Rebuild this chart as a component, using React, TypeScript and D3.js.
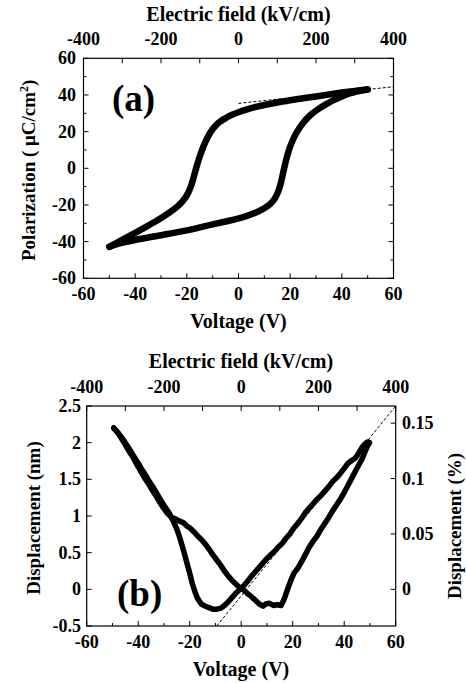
import React from "react";
import * as d3 from "d3";

// ---- Panel (a): polarization hysteresis loop (V, µC/cm²) ----
const loopDescending: [number, number][] = [
  [50, 43], [45, 42.2], [40, 41.3], [35, 40.3], [30, 39.2], [25, 38.2], [20, 37.1],
  [15, 35.9], [10, 34.5], [6, 33.2], [3, 32], [0, 30.6], [-2.5, 29.2], [-5, 27.4],
  [-7, 25.6], [-8.8, 23.4], [-10.3, 20.8], [-11.6, 17.8], [-12.8, 14.4], [-14, 10.4],
  [-15.1, 6], [-16.1, 1.5], [-17, -3], [-17.9, -7.5], [-18.9, -11.6], [-20.1, -15],
  [-21.6, -17.9], [-23.5, -20.6], [-26, -23.4], [-29, -26.3], [-32.5, -29.3],
  [-36.5, -32.5], [-40.5, -35.6], [-44.5, -38.6], [-47.5, -40.9], [-50, -42.8],
];
const loopAscending: [number, number][] = [
  [-50, -42.8], [-47, -41.4], [-44, -40.3], [-40, -39.1], [-34, -37.5], [-28, -36],
  [-22, -34.4], [-16, -32.6], [-10, -30.6], [-5, -29], [-1, -27.7], [3, -26.1],
  [6.5, -24.3], [9.5, -22.2], [12, -19.8], [14, -16.6], [15.4, -12.6], [16.4, -8],
  [17.2, -3], [18, 2], [19, 7.5], [20.2, 12.6], [21.7, 17.4], [23.4, 21.6],
  [25.5, 25.6], [28, 29.2], [31, 32.4], [34, 35], [37, 37.3], [40, 39.2],
  [43, 40.8], [46, 42], [50, 43],
];
// tangent to the saturated branch: (V, P) end points
const fitLineA: [number, number][] = [[0, 35.4], [60, 44.5]];

// ---- Panel (b): butterfly displacement curve (V, nm) ----
const dispUp: [number, number][] = [
  [-49.5, 2.2], [-48, 2.14], [-46.5, 2.06], [-45, 1.97], [-43.5, 1.88], [-42, 1.8],
  [-40.5, 1.7], [-39, 1.61], [-37.5, 1.52], [-36, 1.44], [-34.5, 1.35], [-33, 1.27],
  [-31.5, 1.18], [-30, 1.1], [-28.5, 1.03], [-27, 0.98], [-25.5, 0.96], [-24, 0.93],
  [-22.5, 0.91], [-21, 0.86], [-20, 0.84], [-18.5, 0.79], [-17, 0.73], [-15.5, 0.68],
  [-14, 0.62], [-12.5, 0.55], [-11, 0.47], [-9.5, 0.4], [-8, 0.33], [-6.5, 0.25],
  [-5, 0.18], [-3.5, 0.12], [-2, 0.07], [-0.5, 0.02], [1, -0.01], [2.5, -0.06],
  [4, -0.1], [5.5, -0.15], [7, -0.2], [8.5, -0.23], [9.5, -0.2], [11, -0.19],
  [12.5, -0.22], [14, -0.21], [15.5, -0.22], [16.5, -0.15], [17.5, -0.05], [18.5, 0.05],
  [19.5, 0.14], [20.5, 0.22], [22, 0.29], [23.5, 0.38], [25, 0.48], [26.5, 0.58],
  [28, 0.66], [29.5, 0.73], [31, 0.82], [32.5, 0.9], [34, 0.98], [35.5, 1.07],
  [37, 1.15], [38.5, 1.23], [40, 1.32], [41.5, 1.42], [43, 1.52], [44.5, 1.62],
  [46, 1.72], [47, 1.78], [48, 1.87], [49, 1.95], [49.8, 2.0],
];
const dispDown: [number, number][] = [
  [49.8, 2.0], [49, 2.01], [48, 1.98], [47, 1.94], [46, 1.88], [45, 1.82], [44, 1.78],
  [43, 1.76], [41.5, 1.72], [40, 1.65], [38.5, 1.58], [37, 1.52], [35.5, 1.47],
  [34, 1.4], [32.5, 1.34], [31, 1.28], [29.5, 1.23], [28, 1.17], [26.5, 1.11],
  [25, 1.05], [23.5, 0.97], [22, 0.9], [20.5, 0.84], [19, 0.76], [17.5, 0.7],
  [16, 0.63], [14.5, 0.58], [13, 0.52], [11.5, 0.47], [10, 0.42], [8.5, 0.36],
  [7, 0.3], [5.5, 0.24], [4, 0.18], [2.5, 0.11], [1, 0.05], [-0.5, 0.0], [-2, -0.05],
  [-3.5, -0.11], [-5, -0.17], [-6.5, -0.22], [-8, -0.26], [-9.5, -0.27], [-11, -0.27],
  [-12.5, -0.25], [-14, -0.23], [-15.5, -0.2], [-17, -0.12], [-18, -0.03], [-19, 0.08],
  [-20, 0.22], [-21, 0.35], [-22, 0.48], [-23, 0.6], [-24, 0.72], [-25, 0.82],
  [-26.5, 0.94], [-28, 1.04], [-29.5, 1.12], [-31, 1.2], [-32.5, 1.29], [-34, 1.38],
  [-35.5, 1.46], [-37, 1.55], [-38.5, 1.63], [-40, 1.72], [-41.5, 1.8], [-43, 1.89],
  [-44.5, 1.97], [-46, 2.05], [-47.5, 2.12], [-49, 2.18], [-49.5, 2.2],
];
const fitLineB: [number, number][] = [[-9.5, -0.5], [60, 2.5]];

// ---- axis ticks ----
const voltageTicks = [-60, -40, -20, 0, 20, 40, 60];
const voltageMinor = [-50, -30, -10, 10, 30, 50];
const fieldTicks = [-400, -200, 0, 200, 400];
const fieldMinor = [-300, -100, 100, 300];
const polTicks = [-60, -40, -20, 0, 20, 40, 60];
const polMinor = [-50, -30, -10, 10, 30, 50];
const dispTicks = [-0.5, 0, 0.5, 1, 1.5, 2, 2.5];
const dispTickLabels = ["-0.5", "0", "0.5", "1", "1.5", "2", "2.5"];
const strainTicks = [0, 0.05, 0.1, 0.15];
const strainTickLabels = ["0", "0.05", "0.1", "0.15"];

const FONT = "Liberation Serif, Tinos, DejaVu Serif, serif";
const MAJ = 5;
const MIN = 3;
const TICK_FS = 18;
const TITLE_FS = 20;

function Frame({ x, y }: { x: d3.ScaleLinear<number, number>; y: d3.ScaleLinear<number, number> }) {
  const [x0, x1] = x.range();
  const [y0, y1] = y.range();
  return (
    <rect x={x0} y={y1} width={x1 - x0} height={y0 - y1} fill="none" stroke="#000" strokeWidth={1.2} />
  );
}

export default function App() {
  // panel (a)
  const xA = d3.scaleLinear().domain([-60, 60]).range([83.5, 393.5]);
  const eA = d3.scaleLinear().domain([-400, 400]).range([83.5, 393.5]);
  const yA = d3.scaleLinear().domain([-60, 60]).range([278.3, 58.3]);
  // panel (b)
  const xB = d3.scaleLinear().domain([-60, 60]).range([86.7, 395.7]);
  const eB = d3.scaleLinear().domain([-400, 400]).range([86.7, 395.7]);
  const yB = d3.scaleLinear().domain([-0.5, 2.5]).range([626, 406]);
  const nmToPct = 0.0662;
  const yB2 = d3.scaleLinear().domain([-0.5 * nmToPct, 2.5 * nmToPct]).range([626, 406]);

  const lineA = d3
    .line<[number, number]>()
    .x((d) => xA(d[0]))
    .y((d) => yA(d[1]))
    .curve(d3.curveCatmullRom.alpha(0.5));
  const lineB = d3
    .line<[number, number]>()
    .x((d) => xB(d[0]))
    .y((d) => yB(d[1]))
    .curve(d3.curveLinear);

  const [ax0, ax1] = xA.range();
  const [ay0, ay1] = yA.range();
  const [bx0, bx1] = xB.range();
  const [by0, by1] = yB.range();

  const T = (props: any) => (
    <text fontFamily={FONT} fontWeight="bold" fill="#000" {...props} />
  );

  return (
    <svg
      width={466}
      height={683}
      style={{ position: "absolute", left: 0, top: 0, background: "#fff" }}
    >
      <rect x={0} y={0} width={466} height={683} fill="#fff" />

      {/* ================= Panel (a) ================= */}
      <g>
        <path d={d3.line()(fitLineA.map((d) => [xA(d[0]), yA(d[1])]) as [number, number][]) || ""}
          stroke="#000" strokeWidth={1} strokeDasharray="3,2" fill="none" />
        <path d={lineA(loopDescending) || ""} fill="none" stroke="#000" strokeWidth={6.5}
          strokeLinecap="round" strokeLinejoin="round" />
        <path d={lineA(loopAscending) || ""} fill="none" stroke="#000" strokeWidth={6.5}
          strokeLinecap="round" strokeLinejoin="round" />

        <Frame x={xA} y={yA} />
        {voltageTicks.map((v) => (
          <line key={"ab" + v} x1={xA(v)} x2={xA(v)} y1={ay0} y2={ay0 - MAJ} stroke="#000" />
        ))}
        {voltageMinor.map((v) => (
          <line key={"abm" + v} x1={xA(v)} x2={xA(v)} y1={ay0} y2={ay0 - MIN} stroke="#000" />
        ))}
        {fieldTicks.map((v) => (
          <line key={"at" + v} x1={eA(v)} x2={eA(v)} y1={ay1} y2={ay1 + MAJ} stroke="#000" />
        ))}
        {fieldMinor.map((v) => (
          <line key={"atm" + v} x1={eA(v)} x2={eA(v)} y1={ay1} y2={ay1 + MAJ} stroke="#000" />
        ))}
        {polTicks.map((v) => (
          <g key={"al" + v}>
            <line x1={ax0} x2={ax0 + MAJ} y1={yA(v)} y2={yA(v)} stroke="#000" />
            <line x1={ax1} x2={ax1 - MAJ} y1={yA(v)} y2={yA(v)} stroke="#000" />
          </g>
        ))}
        {polMinor.map((v) => (
          <g key={"alm" + v}>
            <line x1={ax0} x2={ax0 + MIN} y1={yA(v)} y2={yA(v)} stroke="#000" />
            <line x1={ax1} x2={ax1 - MIN} y1={yA(v)} y2={yA(v)} stroke="#000" />
          </g>
        ))}

        {voltageTicks.map((v) => (
          <T key={"abl" + v} x={xA(v)} y={300} textAnchor="middle" fontSize={TICK_FS}>{v}</T>
        ))}
        {fieldTicks.map((v) => (
          <T key={"atl" + v} x={eA(v)} y={45} textAnchor="middle" fontSize={TICK_FS}>{v}</T>
        ))}
        {polTicks.map((v) => (
          <T key={"all" + v} x={76} y={yA(v) + 6} textAnchor="end" fontSize={TICK_FS}>{v}</T>
        ))}

        <T x={238.5} y={21} textAnchor="middle" fontSize={TITLE_FS}>Electric field (kV/cm)</T>
        <T x={238.5} y={328} textAnchor="middle" fontSize={TITLE_FS}>Voltage (V)</T>
        <T
          transform={`translate(35, ${(ay0 + ay1) / 2 + 2}) rotate(-90)`}
          textAnchor="middle"
          fontSize={19}
        >
          Polarization ( μC/cm
          <tspan fontSize={12} dy={-7}>2</tspan>
          <tspan dy={7}>)</tspan>
        </T>
        <T x={112} y={111} fontSize={37}>(a)</T>
      </g>

      {/* ================= Panel (b) ================= */}
      <g>
        <path d={d3.line()(fitLineB.map((d) => [xB(d[0]), yB(d[1])]) as [number, number][]) || ""}
          stroke="#000" strokeWidth={1} strokeDasharray="3,2" fill="none" />
        <path d={lineB(dispUp) || ""} fill="none" stroke="#000" strokeWidth={5.5}
          strokeLinecap="round" strokeLinejoin="round" />
        <path d={lineB(dispDown) || ""} fill="none" stroke="#000" strokeWidth={5.5}
          strokeLinecap="round" strokeLinejoin="round" />

        <Frame x={xB} y={yB} />
        {voltageTicks.map((v) => (
          <line key={"bb" + v} x1={xB(v)} x2={xB(v)} y1={by0} y2={by0 - MAJ} stroke="#000" />
        ))}
        {voltageMinor.map((v) => (
          <line key={"bbm" + v} x1={xB(v)} x2={xB(v)} y1={by0} y2={by0 - MIN} stroke="#000" />
        ))}
        {fieldTicks.map((v) => (
          <line key={"bt" + v} x1={eB(v)} x2={eB(v)} y1={by1} y2={by1 + MAJ} stroke="#000" />
        ))}
        {fieldMinor.map((v) => (
          <line key={"btm" + v} x1={eB(v)} x2={eB(v)} y1={by1} y2={by1 + MAJ} stroke="#000" />
        ))}
        {dispTicks.map((v) => (
          <line key={"bl" + v} x1={bx0} x2={bx0 + MAJ} y1={yB(v)} y2={yB(v)} stroke="#000" />
        ))}
        {strainTicks.map((v) => (
          <line key={"br" + v} x1={bx1} x2={bx1 - MAJ} y1={yB2(v)} y2={yB2(v)} stroke="#000" />
        ))}

        {voltageTicks.map((v) => (
          <T key={"bbl" + v} x={xB(v)} y={648} textAnchor="middle" fontSize={TICK_FS}>{v}</T>
        ))}
        {fieldTicks.map((v) => (
          <T key={"btl" + v} x={eB(v)} y={393} textAnchor="middle" fontSize={TICK_FS}>{v}</T>
        ))}
        {dispTicks.map((v, i) => (
          <T key={"bll" + v} x={81} y={yB(v) + 6} textAnchor="end" fontSize={TICK_FS}>{dispTickLabels[i]}</T>
        ))}
        {strainTicks.map((v, i) => (
          <T key={"brl" + v} x={402} y={yB2(v) + 6} textAnchor="start" fontSize={TICK_FS}>{strainTickLabels[i]}</T>
        ))}

        <T x={241} y={368} textAnchor="middle" fontSize={TITLE_FS}>Electric field (kV/cm)</T>
        <T x={241} y={676} textAnchor="middle" fontSize={TITLE_FS}>Voltage (V)</T>
        <T
          transform={`translate(40, ${(by0 + by1) / 2 + 2}) rotate(-90)`}
          textAnchor="middle"
          fontSize={19}
        >
          Displacement (nm)
        </T>
        <T
          transform={`translate(461, ${(by0 + by1) / 2 + 10}) rotate(-90)`}
          textAnchor="middle"
          fontSize={19}
        >
          Displacement (%)
        </T>
        <T x={117} y={606} fontSize={37}>(b)</T>
      </g>
    </svg>
  );
}
